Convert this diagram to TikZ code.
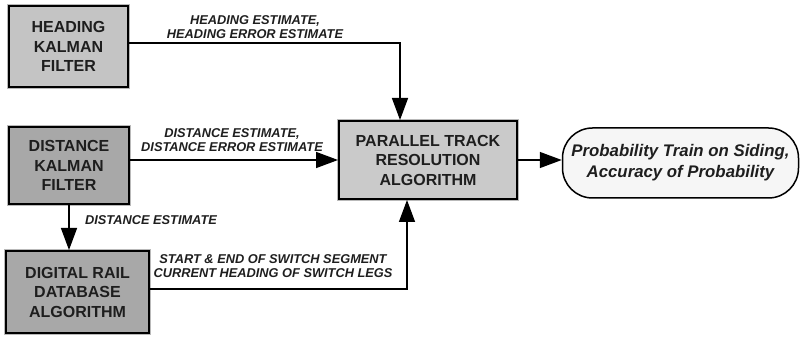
\documentclass[tikz,border=0pt]{standalone}
\usepackage{fontspec}
\setmainfont{Liberation Sans}
\usetikzlibrary{arrows.meta}
\definecolor{boxA}{HTML}{C4C4C4}
\definecolor{boxB}{HTML}{A8A8A8}
\definecolor{boxC}{HTML}{CACACA}
\definecolor{boxD}{HTML}{F6F6F6}
\definecolor{txt}{HTML}{1E1E1E}
\tikzset{
  blk/.style={draw=black, line width=2pt, rectangle, align=center, text=txt,
    font=\fontsize{16}{19.5}\selectfont\bfseries, inner sep=0pt,
    preaction={draw=gray!55, line width=3.6pt}},
  lbl/.style={align=center, text=txt, inner sep=0pt,
    font=\fontsize{12.8}{14}\selectfont\bfseries\itshape},
  conn/.style={line width=1.5pt, draw=black},
  arr/.style={conn, -{Triangle[width=16pt,length=22pt]}}
}
\begin{document}
\begin{tikzpicture}[x=1pt,y=-1pt]
\useasboundingbox (0,0) rectangle (801,339);
\node[blk, fill=boxA, minimum width=119pt, minimum height=81pt] (head) at (68.5,46.5) {HEADING\\KALMAN\\FILTER};
\node[blk, fill=boxB, minimum width=120pt, minimum height=77pt] (dist) at (69,165.5) {DISTANCE\\KALMAN\\FILTER};
\node[blk, fill=boxB, minimum width=143pt, minimum height=82pt] (digi) at (77.5,292) {DIGITAL RAIL\\DATABASE\\ALGORITHM};
\node[blk, fill=boxC, minimum width=178pt, minimum height=78pt] (par) at (428,160) {PARALLEL TRACK\\RESOLUTION\\ALGORITHM};
\node[draw=black, line width=1.5pt, fill=boxD, rounded corners=30pt, minimum width=236pt, minimum height=70pt, align=center, text=txt, inner sep=0pt,
  font=\fontsize{16.8}{21}\selectfont\bfseries\itshape] (out) at (680.5,163) {Probability Train on Siding,\\Accuracy of Probability};

\draw[arr] ([yshift=3.5pt]head.east) -| ([xshift=-28pt]par.north);
\draw[arr] (dist.east |- par.west) -- (par.west);
\draw[arr] (par.east) -- (par.east -| out.west);
\draw[arr] (dist.south) -- (dist.south |- digi.north);
\draw[arr] ([yshift=3pt]digi.east) -| ([xshift=-21pt]par.south);

\node[lbl] (l1) at (255,27) {HEADING ESTIMATE,\\HEADING ERROR ESTIMATE};
\node[lbl] (l2) at (232,140) {DISTANCE ESTIMATE,\\DISTANCE ERROR ESTIMATE};
\node[lbl] (l3) at (151,220) {DISTANCE ESTIMATE};
\node[lbl] (l4) at (273,266) {START \& END OF SWITCH SEGMENT\\CURRENT HEADING OF SWITCH LEGS};
\end{tikzpicture}
\end{document}
